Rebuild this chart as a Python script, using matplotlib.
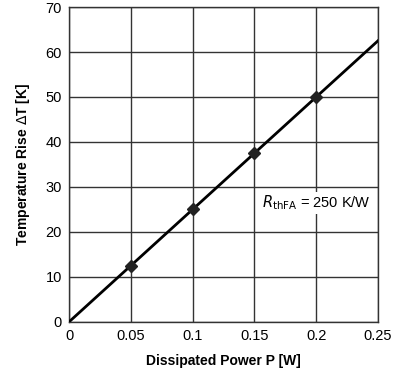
import numpy as np
import matplotlib
matplotlib.use('Agg')
import matplotlib.pyplot as plt

plt.rcParams['font.family'] = ['Liberation Sans', 'DejaVu Sans']

# data
power_line = [0.0, 0.25]
temp_line = [0.0, 62.5]
power_pts = [0.05, 0.10, 0.15, 0.20]
temp_pts = [12.5, 25.0, 37.5, 50.0]
x_ticks = [0, 0.05, 0.1, 0.15, 0.2, 0.25]
x_labels = ['0', '0.05', '0.1', '0.15', '0.2', '0.25']
y_ticks = [0, 10, 20, 30, 40, 50, 60, 70]

fig = plt.figure(figsize=(4, 3.7), dpi=100)
ax = fig.add_axes([0.1725, 0.13, 0.7725, 0.851])

ax.plot(power_line, temp_line, color='black', lw=2, zorder=3)
ax.plot(power_pts, temp_pts, 'D', color='#222222', ms=6.5, zorder=4)

ax.set_xlim(0, 0.25)
ax.set_ylim(0, 70)
ax.set_xticks(x_ticks)
ax.set_xticklabels(x_labels)
ax.set_yticks(y_ticks)
ax.grid(True, color='#333333', lw=1)
ax.tick_params(length=0, labelsize=10.5, pad=5)
for s in ax.spines.values():
    s.set_color('#333333')
    s.set_linewidth(1)

ax.set_xlabel('Dissipated Power P [W]', fontsize=10, fontweight='bold', labelpad=8)
ax.set_ylabel('Temperature Rise $\\Delta$T [K]', fontsize=10, fontweight='bold', labelpad=10)

ax.text(0.2, 26.5, '$R_{\\mathrm{thFA}}$ = 250 K/W', fontsize=10.5, ha='center', va='center',
        bbox=dict(facecolor='white', edgecolor='none', pad=1), zorder=5)

fig.savefig('out.png', dpi=100)
